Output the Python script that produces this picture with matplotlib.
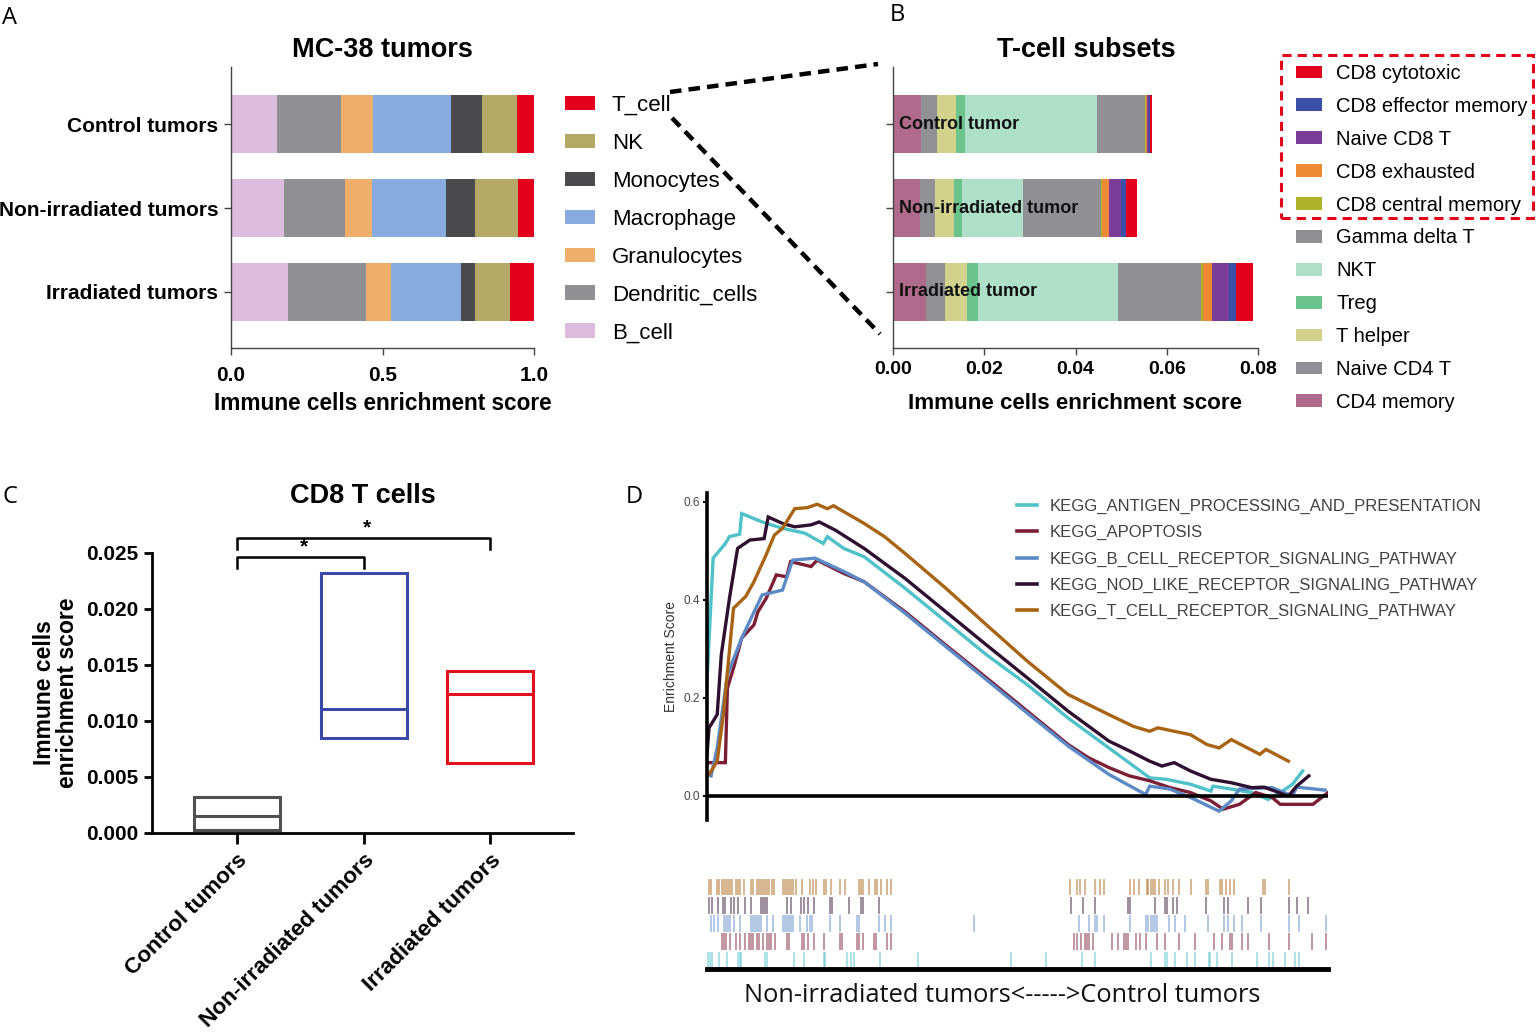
import matplotlib
matplotlib.use("Agg")
import matplotlib.pyplot as plt
import numpy as np
from matplotlib.patches import Patch, Rectangle
from matplotlib.lines import Line2D

plt.rcParams['font.family'] = ['Liberation Sans', 'DejaVu Sans']

W, H = 1536, 1036

# ---------------- Panel A data (MC-38 tumors) ----------------
a_groups = ['Control tumors', 'Non-irradiated tumors', 'Irradiated tumors']
a_B_cell = [0.153, 0.175, 0.189]
a_Dendritic = [0.209, 0.201, 0.256]
a_Granulocytes = [0.108, 0.089, 0.083]
a_Macrophage = [0.256, 0.244, 0.232]
a_Monocytes = [0.102, 0.096, 0.044]
a_NK = [0.116, 0.142, 0.118]
a_T_cell = [0.056, 0.053, 0.078]
a_labels = ['B_cell', 'Dendritic_cells', 'Granulocytes', 'Macrophage', 'Monocytes', 'NK', 'T_cell']
a_colors = ['#dcbcdd', '#8f8f94', '#efaf6b', '#87abdf', '#4a4a4d', '#b3a866', '#e2001a']

# ---------------- Panel B data (T-cell subsets) ----------------
b_groups = ['Control tumor', 'Non-irradiated tumor', 'Irradiated tumor']
b_cd4_memory = [0.0062, 0.0059, 0.0072]
b_naive_cd4 = [0.0035, 0.0034, 0.0041]
b_t_helper = [0.0042, 0.0040, 0.0050]
b_treg = [0.0019, 0.0019, 0.0023]
b_nkt = [0.0290, 0.0133, 0.0308]
b_gamma_delta = [0.0105, 0.0170, 0.0180]
b_cd8_central = [0.00015, 0.00037, 0.00051]
b_cd8_exhausted = [0.0002, 0.0015, 0.0020]
b_naive_cd8 = [0.0005, 0.0025, 0.0037]
b_cd8_effector = [0.0002, 0.0011, 0.0016]
b_cd8_cytotoxic = [0.0004, 0.0025, 0.0036]
b_labels = ['CD4 memory', 'Naive CD4 T', 'T helper', 'Treg', 'NKT', 'Gamma delta T',
            'CD8 central memory', 'CD8 exhausted', 'Naive CD8 T', 'CD8 effector memory',
            'CD8 cytotoxic']
b_colors = ['#b06a8c', '#909095', '#d2d28c', '#6cc48d', '#aee0c9', '#8f8f94',
            '#b0b22a', '#ef8a34', '#7a3d9a', '#3c4fa6', '#e2001a']

# ---------------- Panel C data (CD8 T cells) ----------------
c_groups = ['Control tumors', 'Non-irradiated tumors', 'Irradiated tumors']
c_min = [0.00027, 0.00848, 0.00625]
c_max = [0.00321, 0.02320, 0.01446]
c_median = [0.00152, 0.01107, 0.01240]
c_colors = ['#505050', '#3a4aa6', '#e0101e']
c_ticks = [0.000, 0.005, 0.010, 0.015, 0.020, 0.025]

# ---------------- Panel D data (GSEA running scores, rank out of 1522) ----------------
d_names = ['KEGG_ANTIGEN_PROCESSING_AND_PRESENTATION', 'KEGG_APOPTOSIS',
           'KEGG_B_CELL_RECEPTOR_SIGNALING_PATHWAY', 'KEGG_NOD_LIKE_RECEPTOR_SIGNALING_PATHWAY',
           'KEGG_T_CELL_RECEPTOR_SIGNALING_PATHWAY']
d_colors = ['#4fc1c9', '#7a1f35', '#5b8ac6', '#2e0f30', '#a86414']
n_rank = 1522

antigen_x = [0, 15, 45, 55, 80, 85, 135, 185, 240, 285, 295, 335, 385, 485, 585, 685, 785,
             885, 985, 1085, 1125, 1185, 1235, 1240, 1285, 1335, 1375, 1405, 1435, 1460]
antigen_y = [.234, .485, .515, .529, .534, .576, .559, .546, .536, .515, .529, .505, .488,
             .424, .356, .288, .227, .159, .098, .037, .034, .024, .010, .020, .014, .007,
             -.007, .007, .024, .051]
apoptosis_x = [5, 45, 50, 65, 85, 115, 125, 145, 170, 195, 205, 255, 270, 335, 385, 485, 585,
               685, 785, 885, 935, 985, 1035, 1085, 1135, 1185, 1235, 1265, 1305, 1345, 1385,
               1405, 1485, 1522]
apoptosis_y = [.068, .068, .220, .261, .322, .349, .376, .403, .451, .447, .478, .468, .481,
               .454, .437, .376, .308, .241, .173, .105, .078, .058, .041, .031, .017, .007,
               -.010, -.027, -.017, .007, -.003, -.017, -.017, .007]
bcell_x = [10, 25, 50, 85, 135, 185, 210, 265, 335, 385, 485, 585, 685, 785, 885, 985, 1075,
           1085, 1135, 1185, 1255, 1285, 1305, 1385, 1435, 1445, 1515]
bcell_y = [.041, .098, .247, .322, .410, .420, .481, .485, .458, .437, .373, .305, .237, .169,
           .102, .044, .003, .020, .014, -.003, -.031, -.010, .014, .017, .000, .018, .012]
nod_x = [0, 5, 25, 35, 55, 75, 105, 140, 150, 185, 215, 255, 275, 315, 385, 485, 585, 685,
         785, 885, 985, 1035, 1085, 1115, 1145, 1185, 1235, 1285, 1335, 1365, 1425, 1445, 1475]
nod_y = [.085, .139, .166, .288, .403, .505, .522, .525, .569, .556, .549, .553, .559, .542,
         .505, .444, .376, .308, .241, .173, .112, .092, .071, .061, .068, .051, .034, .027,
         .017, .018, .000, .020, .041]
tcell_x = [5, 25, 40, 65, 95, 115, 145, 165, 185, 215, 245, 270, 295, 310, 335, 385, 435, 485,
           585, 685, 785, 885, 985, 1045, 1085, 1105, 1185, 1225, 1255, 1285, 1355, 1370, 1425]
tcell_y = [.044, .071, .166, .383, .407, .437, .492, .532, .546, .586, .588, .595, .586, .592,
           .580, .556, .529, .495, .424, .349, .275, .207, .166, .142, .132, .139, .125, .105,
           .098, .115, .085, .095, .071]

hits_tcell = [4, 10, 24, 30, 37, 42, 47, 52, 57, 62, 70, 77, 82, 90, 107, 112, 122, 127, 132,
              137, 142, 147, 152, 160, 165, 187, 192, 197, 202, 207, 212, 217, 232, 252, 260,
              267, 287, 292, 304, 327, 337, 372, 377, 382, 397, 412, 417, 427, 442, 452, 890,
              907, 915, 927, 952, 962, 972, 1037, 1047, 1060, 1079, 1082, 1087, 1092, 1097,
              1107, 1122, 1130, 1142, 1157, 1187, 1222, 1227, 1257, 1262, 1272, 1282, 1292,
              1362, 1367, 1427]
hits_nod = [4, 12, 27, 40, 44, 60, 67, 77, 92, 107, 132, 137, 142, 147, 197, 207, 230, 237,
            247, 262, 302, 307, 347, 377, 382, 422, 892, 922, 952, 1032, 1037, 1097, 1122,
            1127, 1142, 1152, 1222, 1267, 1277, 1327, 1357, 1427, 1447, 1472]
hits_bcell = [10, 17, 27, 42, 47, 52, 57, 67, 82, 107, 112, 117, 122, 127, 132, 147, 162, 187,
              192, 197, 202, 207, 212, 227, 244, 252, 257, 302, 327, 367, 372, 422, 437, 452,
              654, 912, 937, 952, 957, 972, 1037, 1077, 1082, 1087, 1092, 1097, 1102, 1132,
              1147, 1172, 1227, 1267, 1277, 1292, 1312, 1357, 1427, 1452, 1517]
hits_apoptosis = [37, 42, 47, 57, 70, 82, 92, 102, 107, 112, 122, 127, 137, 147, 152, 157, 167,
                  197, 202, 232, 237, 247, 262, 287, 327, 332, 367, 372, 382, 410, 414, 442,
                  452, 900, 907, 917, 927, 932, 937, 947, 992, 1007, 1022, 1027, 1032, 1052,
                  1062, 1077, 1102, 1122, 1157, 1197, 1242, 1262, 1282, 1287, 1312, 1327, 1377,
                  1427, 1482, 1517]
hits_antigen = [2, 7, 12, 30, 50, 77, 80, 84, 142, 147, 214, 237, 287, 290, 342, 352, 360, 424,
                517, 745, 830, 920, 952, 1087, 1122, 1127, 1147, 1177, 1197, 1230, 1234, 1250,
                1287, 1347, 1377, 1387, 1417, 1442, 1452]


def box(l, t, r, b):
    """figure-fraction rectangle from pixel edges"""
    return [l / W, 1 - b / H, (r - l) / W, (b - t) / H]


fig = plt.figure(figsize=(W / 100, H / 100), dpi=100)

spine_col = '#444444'

# ================= Panel A =================
axA = fig.add_axes(box(231, 67, 534, 348))
ypos = np.arange(len(a_groups))
left = np.zeros(len(a_groups))
a_series = [a_B_cell, a_Dendritic, a_Granulocytes, a_Macrophage, a_Monocytes, a_NK, a_T_cell]
handlesA = []
for vals, lab, col in zip(a_series, a_labels, a_colors):
    v = np.array(vals)
    axA.barh(ypos, v, left=left, height=0.68, color=col, edgecolor='none')
    left += v
    handlesA.append(Patch(facecolor=col, edgecolor='none', label=lab))
axA.set_ylim(2.667, -0.679)
axA.set_xlim(0, 1.0)
axA.set_yticks(ypos)
axA.set_yticklabels(a_groups, fontsize=15, fontweight='bold')
axA.set_xticks([0, 0.5, 1.0])
axA.set_xticklabels(['0.0', '0.5', '1.0'], fontsize=15, fontweight='bold')
axA.set_xlabel('Immune cells enrichment score', fontsize=16.3, fontweight='bold', labelpad=5)
axA.set_title('MC-38 tumors', fontsize=19.5, fontweight='bold', pad=7)
for s in ['top', 'right']:
    axA.spines[s].set_visible(False)
for s in ['left', 'bottom']:
    axA.spines[s].set_color(spine_col)
    axA.spines[s].set_linewidth(1.0)
axA.tick_params(axis='y', direction='out', length=5, width=1, color=spine_col, pad=4)
axA.tick_params(axis='x', direction='out', length=5, width=1, color=spine_col, pad=8)

legA = fig.legend(handles=handlesA[::-1], loc='upper left',
                  bbox_to_anchor=(565 / W, 1 - 95 / H), frameon=False, fontsize=16,
                  handlelength=1.35, handleheight=0.62, handletextpad=0.75,
                  labelspacing=0.76, borderpad=0, borderaxespad=0)

# ================= Panel B =================
axB = fig.add_axes(box(893, 67, 1258, 348))
left = np.zeros(len(b_groups))
b_series = [b_cd4_memory, b_naive_cd4, b_t_helper, b_treg, b_nkt, b_gamma_delta,
            b_cd8_central, b_cd8_exhausted, b_naive_cd8, b_cd8_effector, b_cd8_cytotoxic]
handlesB = []
for vals, lab, col in zip(b_series, b_labels, b_colors):
    v = np.array(vals)
    axB.barh(ypos, v, left=left, height=0.68, color=col, edgecolor='none')
    left += v
    handlesB.append(Patch(facecolor=col, edgecolor='none', label=lab))
for i, g in enumerate(b_groups):
    axB.annotate(g, xy=(0, i), xytext=(4, 0), textcoords='offset points', va='center',
                 ha='left', fontsize=13, fontweight='bold', color='#111111')
axB.set_ylim(2.667, -0.679)
axB.set_xlim(0, 0.08)
axB.set_yticks(ypos)
axB.set_yticklabels([])
axB.set_xticks([0, 0.02, 0.04, 0.06, 0.08])
axB.set_xticklabels(['0.00', '0.02', '0.04', '0.06', '0.08'], fontsize=14, fontweight='bold')
axB.set_xlabel('Immune cells enrichment score', fontsize=16.1, fontweight='bold', labelpad=11)
axB.set_title('T-cell subsets', fontsize=19.5, fontweight='bold', pad=7, x=0.53)
for s in ['top', 'right']:
    axB.spines[s].set_visible(False)
for s in ['left', 'bottom']:
    axB.spines[s].set_color(spine_col)
    axB.spines[s].set_linewidth(1.0)
axB.tick_params(axis='both', direction='out', length=5, width=1, color=spine_col, pad=4)

legB = fig.legend(handles=handlesB[::-1], loc='upper left',
                  bbox_to_anchor=(1296 / W, 1 - 64 / H), frameon=False, fontsize=14.5,
                  handlelength=1.3, handleheight=0.6, handletextpad=0.7,
                  labelspacing=0.69, borderpad=0, borderaxespad=0)

# red dashed box around CD8 subsets
fig.add_artist(Rectangle((1281 / W, 1 - 218 / H), 252 / W, 163 / H, transform=fig.transFigure,
                         fill=False, edgecolor='#e2001a', linewidth=2.2,
                         linestyle=(0, (3, 2))))

# connector dashed lines from T_cell legend entry to panel B
for (x0, y0, x1, y1) in [(670, 92, 878, 64), (672, 118, 880, 334)]:
    fig.add_artist(Line2D([x0 / W, x1 / W], [1 - y0 / H, 1 - y1 / H],
                          transform=fig.transFigure, color='black', linewidth=3.2,
                          linestyle=(0, (2.6, 1.6))))

# ================= Panel C =================
axC = fig.add_axes(box(152, 553, 573, 833))
xc = np.arange(len(c_groups))
for i in range(len(c_groups)):
    axC.bar(xc[i], c_max[i] - c_min[i], bottom=c_min[i], width=0.68, fill=False,
            edgecolor=c_colors[i], linewidth=2.2)
    axC.hlines(c_median[i], xc[i] - 0.34, xc[i] + 0.34, color=c_colors[i], linewidth=2.2)
axC.set_xlim(-0.672, 2.656)
axC.set_ylim(0, 0.025)
axC.set_yticks(c_ticks)
axC.set_yticklabels(['%.3f' % t for t in c_ticks], fontsize=15, fontweight='bold')
axC.set_xticks(xc)
axC.set_xticklabels(c_groups, fontsize=16.2, fontweight='bold', rotation=45, ha='right',
                    va='top', rotation_mode='anchor')
axC.set_ylabel('Immune cells\nenrichment score', fontsize=16.5, fontweight='bold',
               labelpad=5, linespacing=1.0)
axC.set_title('CD8 T cells', fontsize=19.5, fontweight='bold', pad=36)
for s in ['top', 'right']:
    axC.spines[s].set_visible(False)
for s in ['left', 'bottom']:
    axC.spines[s].set_linewidth(2)
axC.tick_params(axis='y', direction='out', length=6, width=2, pad=4)
axC.tick_params(axis='x', direction='out', length=8, width=2, pad=4)

# significance brackets
for (g1, g2, yb, yl) in [(0, 1, 0.0246, 0.0237), (0, 2, 0.0263, 0.0254)]:
    axC.plot([xc[g1], xc[g1], xc[g2], xc[g2]], [yl, yb, yb, yl], color='black',
             linewidth=1.8, clip_on=False)
    axC.text((xc[g1] + xc[g2]) / 2 + 0.03, yb + 0.0001, '*', ha='center', va='bottom',
             fontsize=15, fontweight='bold')

# ================= Panel D =================
axD = fig.add_axes(box(707, 493, 1328, 820))
d_x = [antigen_x, apoptosis_x, bcell_x, nod_x, tcell_x]
d_y = [antigen_y, apoptosis_y, bcell_y, nod_y, tcell_y]
for xs, ys, col, nm in zip(d_x, d_y, d_colors, d_names):
    axD.plot(xs, ys, color=col, linewidth=2.4, label=nm, solid_joinstyle='miter')
axD.axhline(0, color='black', linewidth=2.6, zorder=5)
axD.set_xlim(0, n_rank)
axD.set_ylim(-0.049, 0.618)
axD.set_yticks([0.0, 0.2, 0.4, 0.6])
axD.set_yticklabels(['0.0', '0.2', '0.4', '0.6'], fontsize=8.5, color='#444444')
axD.set_xticks([])
axD.set_ylabel('Enrichment Score', fontsize=10, color='#333333', labelpad=4)
for s in ['top', 'right', 'bottom']:
    axD.spines[s].set_visible(False)
axD.spines['left'].set_linewidth(2.6)
axD.tick_params(axis='y', direction='out', length=3, width=1.5, pad=2)

fig.legend(handles=[Line2D([], [], color=c, linewidth=2.6) for c in d_colors],
           labels=d_names, loc='upper left', bbox_to_anchor=(1017 / W, 1 - 499 / H),
           frameon=False, fontsize=12, handlelength=1.2, handletextpad=0.75,
           labelspacing=0.67, borderpad=0, borderaxespad=0, labelcolor='#404040')

# rug / barcode panel
axR = fig.add_axes(box(707, 878, 1328, 969))
rug_sets = [hits_antigen, hits_apoptosis, hits_bcell, hits_nod, hits_tcell]
for row, (hits, col) in enumerate(zip(rug_sets, d_colors)):
    axR.vlines(hits, row + 0.04, row + 0.96, color=col, alpha=0.55, linewidth=1.2)
axR.set_xlim(0, n_rank)
axR.set_ylim(0, 5)
axR.set_xticks([])
axR.set_yticks([])
for s in ['top', 'right', 'left']:
    axR.spines[s].set_visible(False)
axR.spines['bottom'].set_linewidth(3.5)
axR.set_xlabel('Non-irradiated tumors<----->Control tumors', fontsize=18.3,
               family=['Open Sans', 'DejaVu Sans'], labelpad=10, color='#111111')
axR.xaxis.label.set_x(0.475)

# panel letters
for letter, px, py in [('A', 10, 18), ('B', 897, 15), ('C', 10, 497), ('D', 634, 497)]:
    fig.text(px / W, 1 - py / H, letter, fontsize=17, family=['Open Sans', 'DejaVu Sans'],
             ha='center', va='center')

fig.savefig('out.png', dpi=100)
